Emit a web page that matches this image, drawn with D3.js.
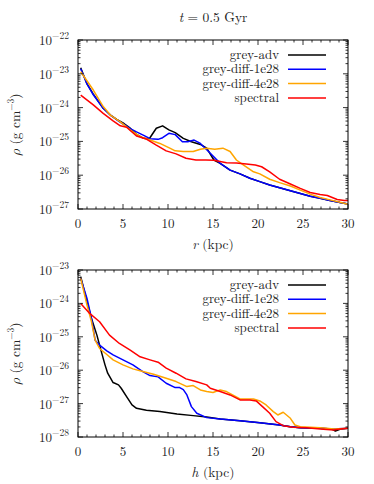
<!DOCTYPE html>
<html>
<head>
<meta charset="utf-8">
<script src="https://cdn.jsdelivr.net/npm/d3@7"></script>
<style>
  body { margin: 0; background: #fff; }
  svg text { fill: #222; }
</style>
</head>
<body>
<div class="chart"></div>
<script>
var svgWidth = 374;
var svgHeight = 484;

// series names / colours
var seriesNames = ["grey-adv", "grey-diff-1e28", "grey-diff-4e28", "spectral"];
var seriesColors = ["#000000", "#0000ff", "#ffa500", "#ff0000"];
var xTicks = [0, 5, 10, 15, 20, 25, 30];

// top panel: radius r (kpc) vs log10 rho
var topAdv = [[0.3,-22.82],[1.0,-23.3],[1.7,-23.6],[2.8,-24.02],[3.6,-24.22],[4.3,-24.35],[5.1,-24.47],[5.8,-24.61],[6.5,-24.79],[7.3,-24.91],[7.9,-24.93],[8.7,-24.61],[9.4,-24.54],[10.1,-24.66],[10.8,-24.74],[11.7,-24.91],[12.6,-25.01],[13.6,-25.09],[14.3,-25.2],[15.1,-25.55],[15.8,-25.65],[16.9,-25.85],[18,-25.96],[19.1,-26.09],[20.2,-26.19],[21.3,-26.29],[22.4,-26.37],[23.6,-26.46],[24.7,-26.54],[25.8,-26.62],[26.9,-26.68],[28,-26.75],[29.1,-26.81],[30,-26.85]];
var topDiff1 = [[0.3,-22.85],[1.0,-23.3],[1.7,-23.62],[2.8,-24.02],[3.6,-24.22],[4.3,-24.36],[5.1,-24.5],[5.8,-24.62],[6.5,-24.72],[7.3,-24.82],[8.0,-24.92],[8.9,-24.94],[9.4,-24.89],[10.1,-24.76],[10.8,-24.8],[11.6,-25.01],[12.2,-25.01],[12.9,-24.96],[13.6,-25.06],[14.7,-25.35],[15.8,-25.65],[16.9,-25.85],[18,-25.96],[19.1,-26.09],[20.2,-26.19],[21.3,-26.29],[22.4,-26.37],[23.6,-26.46],[24.7,-26.54],[25.8,-26.62],[26.9,-26.68],[28,-26.75],[29.1,-26.81],[30,-26.85]];
var topDiff4 = [[0.3,-22.94],[1.7,-23.48],[2.8,-23.97],[3.6,-24.22],[4.7,-24.42],[5.8,-24.66],[6.9,-24.86],[8.0,-24.96],[9.1,-25.06],[10.2,-25.2],[10.8,-25.28],[11.7,-25.3],[12.8,-25.3],[13.6,-25.23],[14.3,-25.2],[15.2,-25.23],[16.1,-25.2],[16.9,-25.3],[17.6,-25.55],[18.4,-25.7],[19.5,-25.9],[20.2,-25.96],[21.3,-26.12],[22.4,-26.22],[23.6,-26.32],[24.7,-26.44],[25.8,-26.56],[26.9,-26.66],[28,-26.73],[29.1,-26.8],[30,-26.86]];
var topSpec = [[0.3,-23.63],[1.7,-23.92],[2.8,-24.17],[3.9,-24.39],[4.7,-24.54],[5.4,-24.58],[6.5,-24.84],[7.6,-24.93],[8.7,-25.11],[9.8,-25.28],[10.9,-25.37],[12,-25.5],[13.1,-25.55],[14.2,-25.55],[15.1,-25.56],[16.5,-25.63],[17.6,-25.64],[18.7,-25.67],[19.7,-25.7],[20.4,-25.75],[21.3,-25.9],[22.4,-26.12],[23.6,-26.26],[24.7,-26.39],[25.8,-26.51],[26.9,-26.57],[27.7,-26.6],[28.8,-26.72],[29.6,-26.75],[30,-26.75]];

// bottom panel: height h (kpc) vs log10 rho
var botAdv = [[0.3,-23.2],[1.0,-23.95],[1.5,-24.45],[2.1,-24.95],[2.6,-25.45],[3.0,-25.84],[3.3,-26.09],[3.9,-26.37],[4.5,-26.44],[4.8,-26.54],[5.4,-26.79],[6.0,-27.04],[6.5,-27.14],[7.6,-27.2],[9.1,-27.24],[11,-27.31],[12.8,-27.36],[14.3,-27.4],[15.8,-27.46],[18,-27.51],[20.2,-27.57],[22.4,-27.64],[23.6,-27.69],[24.7,-27.72],[26.9,-27.74],[28.2,-27.76],[28.6,-27.82],[29.1,-27.77],[30,-27.74]];
var botDiff1 = [[0.3,-23.25],[1.0,-23.85],[1.5,-24.45],[1.9,-25.1],[2.4,-25.25],[3.2,-25.42],[3.9,-25.54],[5.0,-25.69],[6.1,-25.84],[7.2,-26.04],[8.0,-26.16],[8.9,-26.2],[9.8,-26.39],[10.8,-26.52],[11.3,-26.52],[11.7,-26.58],[12.1,-26.74],[12.6,-27.09],[13.2,-27.29],[14.3,-27.42],[15.8,-27.46],[18,-27.51],[20.2,-27.57],[22.4,-27.64],[23.6,-27.69],[24.7,-27.72],[26.9,-27.74],[28.4,-27.76],[30,-27.74]];
var botDiff4 = [[0.3,-23.25],[1.0,-24.05],[1.5,-24.55],[1.9,-25.1],[2.4,-25.35],[3.2,-25.53],[3.9,-25.69],[5.0,-25.84],[6.1,-25.96],[7.2,-26.04],[8.4,-26.12],[9.8,-26.24],[10.9,-26.34],[12.1,-26.49],[12.8,-26.46],[13.6,-26.59],[14.3,-26.64],[15.0,-26.67],[15.8,-26.59],[16.5,-26.64],[18,-26.86],[19.5,-26.86],[20.2,-26.92],[20.9,-27.04],[21.7,-27.24],[22.2,-27.34],[22.8,-27.26],[23.6,-27.44],[24.1,-27.64],[24.7,-27.69],[26.9,-27.72],[28.5,-27.76],[30,-27.74]];
var botSpec = [[0.3,-24.0],[1.3,-24.3],[2.4,-24.55],[3.5,-24.95],[4.6,-25.2],[5.8,-25.4],[6.9,-25.6],[8.0,-25.69],[8.9,-25.76],[9.8,-25.94],[10.9,-26.09],[12,-26.26],[13.1,-26.34],[14.3,-26.44],[14.7,-26.54],[15.8,-26.64],[16.9,-26.74],[18,-26.89],[19.1,-26.89],[19.8,-26.92],[20.5,-27.09],[21.3,-27.29],[22.0,-27.54],[22.8,-27.66],[23.9,-27.71],[25.4,-27.72],[26.9,-27.76],[28.4,-27.79],[29.1,-27.76],[30,-27.74]];

var svg = d3.select(".chart")
  .append("svg")
  .attr("width", svgWidth)
  .attr("height", svgHeight)
  .attr("font-family", "'Latin Modern Roman', 'Latin Modern Math', 'Liberation Serif', serif");

svg.append("text")
  .attr("x", 213).attr("y", 22)
  .attr("text-anchor", "middle")
  .attr("font-size", 13.5)
  .html('<tspan font-style="italic">t</tspan> = 0.5 Gyr');

function drawPanel(top, bottom, yMax, yMin, series, xName) {
  var left = 78, right = 348;
  var x = d3.scaleLinear().domain([0, 30]).range([left, right]);
  var y = d3.scaleLog().domain([Math.pow(10, yMin), Math.pow(10, yMax)]).range([bottom, top]);
  var g = svg.append("g");

  var line = d3.line()
    .x(function(d) { return x(d[0]); })
    .y(function(d) { return y(Math.pow(10, d[1])); });

  var clipId = "clip" + top;
  svg.append("clipPath").attr("id", clipId)
    .append("rect").attr("x", left).attr("y", top).attr("width", right - left).attr("height", bottom - top);

  series.forEach(function(s, i) {
    g.append("path")
      .datum(s)
      .attr("clip-path", "url(#" + clipId + ")")
      .attr("fill", "none")
      .attr("stroke", seriesColors[i])
      .attr("stroke-width", 1.5)
      .attr("stroke-linejoin", "round")
      .attr("d", line);
  });

  // x ticks, inward on bottom and top
  d3.range(0, 31, 1).forEach(function(v) {
    var len = v % 5 === 0 ? 5 : 2.5;
    g.append("line").attr("x1", x(v)).attr("x2", x(v)).attr("y1", bottom).attr("y2", bottom - len)
      .attr("stroke", "#000").attr("stroke-width", 0.8);
    g.append("line").attr("x1", x(v)).attr("x2", x(v)).attr("y1", top).attr("y2", top + len)
      .attr("stroke", "#000").attr("stroke-width", 0.8);
  });
  xTicks.forEach(function(v) {
    g.append("text").attr("x", x(v)).attr("y", bottom + 19)
      .attr("text-anchor", "middle").attr("font-size", 13).text(v);
  });

  // y ticks: decades and minor ones
  for (var e = yMin; e <= yMax; e++) {
    for (var m = 1; m <= 9; m++) {
      var val = m * Math.pow(10, e);
      if (e === yMax && m > 1) break;
      var len = m === 1 ? 5 : 2.5;
      g.append("line").attr("x1", left).attr("x2", left + len).attr("y1", y(val)).attr("y2", y(val))
        .attr("stroke", "#000").attr("stroke-width", 0.8);
      g.append("line").attr("x1", right).attr("x2", right - len).attr("y1", y(val)).attr("y2", y(val))
        .attr("stroke", "#000").attr("stroke-width", 0.8);
    }
    g.append("text").attr("x", 69).attr("y", y(Math.pow(10, e)) + 5)
      .attr("text-anchor", "end").attr("font-size", 13)
      .html('10<tspan dy="-6" font-size="9.5">\u2212' + (-e) + '</tspan>');
  }

  g.append("rect").attr("x", left).attr("y", top).attr("width", right - left).attr("height", bottom - top)
    .attr("fill", "none").attr("stroke", "#000").attr("stroke-width", 1);

  // legend
  seriesNames.forEach(function(name, i) {
    var ly = top + 15 + i * 14.3;
    g.append("text").attr("x", 279).attr("y", ly + 4).attr("text-anchor", "end")
      .attr("font-size", 13).text(name);
    g.append("line").attr("x1", 288).attr("x2", 326).attr("y1", ly).attr("y2", ly)
      .attr("stroke", seriesColors[i]).attr("stroke-width", 1.5);
  });

  // axis titles
  g.append("text").attr("x", 213).attr("y", bottom + 40).attr("text-anchor", "middle")
    .attr("font-size", 13.5)
    .html('<tspan font-style="italic">' + xName + '</tspan> (kpc)');
  g.append("text")
    .attr("transform", "translate(20," + ((top + bottom) / 2) + ") rotate(-90)")
    .attr("text-anchor", "middle").attr("font-size", 13.5)
    .html('<tspan font-style="italic">\u03c1</tspan> (g cm<tspan dy="-6" font-size="9.5">\u22123</tspan><tspan dy="6">)</tspan>');
}

drawPanel(40, 209, -22, -27, [topAdv, topDiff1, topDiff4, topSpec], "r");
drawPanel(270, 437, -23, -28, [botAdv, botDiff1, botDiff4, botSpec], "h");
</script>
</body>
</html>
